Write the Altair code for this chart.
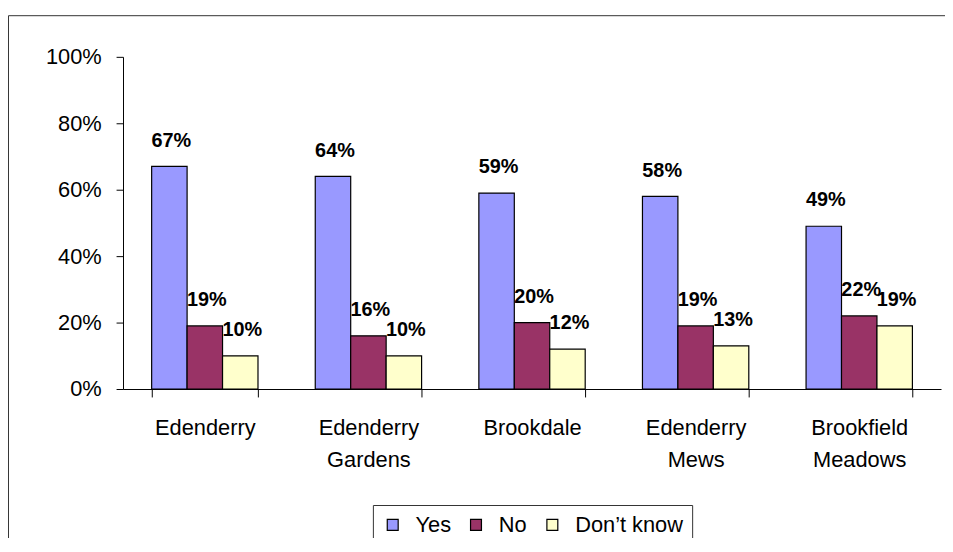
import altair as alt
import pandas as pd

estates = ["Edenderry", "Edenderry Gardens", "Brookdale", "Edenderry Mews", "Brookfield Meadows"]
answers = ["Yes", "No", "Don’t know"]
yes_vals = [0.67, 0.64, 0.59, 0.58, 0.49]
no_vals = [0.19, 0.16, 0.20, 0.19, 0.22]
dk_vals = [0.10, 0.10, 0.12, 0.13, 0.19]
colors = ["#9999FF", "#993366", "#FFFFCC"]
y_ticks = [0, 0.2, 0.4, 0.6, 0.8, 1.0]

rows = []
for i, e in enumerate(estates):
    for a, vals in zip(answers, [yes_vals, no_vals, dk_vals]):
        rows.append({"estate": e, "answer": a, "value": vals[i]})
df = pd.DataFrame(rows)

FONT = "Liberation Sans"

x_enc = alt.X(
    "estate:N", sort=estates, title=None,
    scale=alt.Scale(paddingInner=0.35, paddingOuter=0.175),
    axis=alt.Axis(labelAngle=0, labelExpr="split(datum.label, ' ')", tickBand="extent",
                  tickSize=8, labelPadding=21, labelFontSize=22, labelLineHeight=32,
                  labelFont=FONT, labelColor="black", domainColor="black", tickColor="black",
                  labelLimit=300),
)
xoff = alt.XOffset("answer:N", sort=answers, scale=alt.Scale(paddingInner=0, paddingOuter=0))
y_enc = alt.Y(
    "value:Q", title=None, scale=alt.Scale(domain=[0, 1]),
    axis=alt.Axis(values=y_ticks, format=".0%", tickSize=7, labelPadding=15, labelFontSize=22,
                  labelFont=FONT, labelColor="black", domainColor="black", tickColor="black",
                  grid=False),
)

bars = alt.Chart(df).mark_bar(stroke="black", strokeWidth=1.2).encode(
    x=x_enc, xOffset=xoff, y=y_enc,
    fill=alt.Fill("answer:N", sort=answers,
                  scale=alt.Scale(domain=answers, range=colors),
                  legend=alt.Legend(orient="none", legendX=252, legendY=452, direction="horizontal",
                                    title=None, strokeColor="#333", fillColor="white", padding=9,
                                    symbolType="square", symbolSize=121, symbolStrokeColor="black",
                                    symbolStrokeWidth=1.2, labelFontSize=22, labelFont=FONT,
                                    labelColor="black", columnPadding=14, labelOffset=12)),
)

labels = alt.Chart(df).mark_text(dy=-20, dx=2, baseline="alphabetic", align="center", fontSize=20,
                                 fontWeight="bold", font=FONT, color="black").encode(
    x=x_enc, xOffset=xoff, y=y_enc,
    text=alt.Text("value:Q", format=".0%"),
)

one = pd.DataFrame({"k": [0]})
frame_top = alt.Chart(one).mark_rule(color="#333", strokeWidth=1).encode(
    x=alt.value(-115.5), x2=alt.value(1200), y=alt.value(-41.5)
)
frame_left = alt.Chart(one).mark_rule(color="#333", strokeWidth=1).encode(
    x=alt.value(-115.5), y=alt.value(-41.5), y2=alt.value(800)
)

chart = alt.layer(frame_top, frame_left, bars, labels).properties(
    width=825, height=335,
    autosize=alt.AutoSizeParams(type="none"),
    padding={"left": 116, "top": 47, "right": 4, "bottom": 148},
).configure_view(strokeWidth=0, strokeOpacity=0)

chart.save("out.html", embed_options={"renderer": "svg", "actions": False})
